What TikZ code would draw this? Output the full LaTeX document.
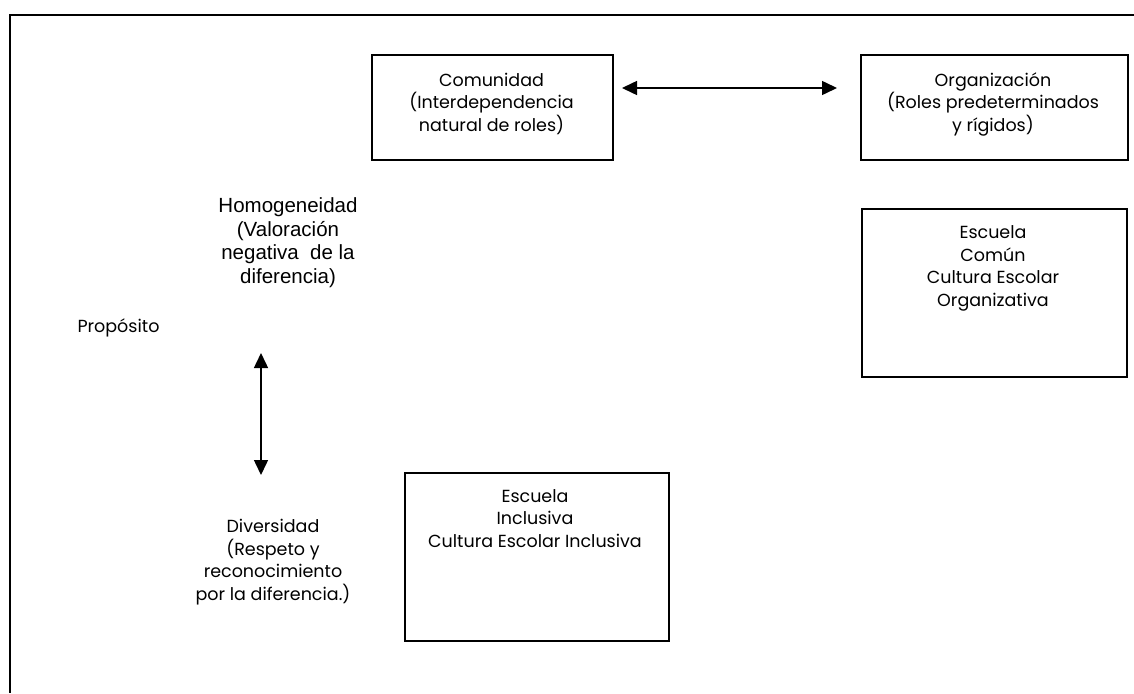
\documentclass[tikz,border=0pt]{standalone}
\usepackage{fontspec}
\setmainfont{Poppins}
\newfontfamily\arialfont{Liberation Sans}
\usetikzlibrary{arrows.meta}
\begin{document}
\begin{tikzpicture}[x=1pt,y=-1pt,
  box/.style={draw,line width=1.8pt,inner sep=0pt,anchor=north west},
  boxtext/.style={align=center,anchor=base,inner sep=0pt,font=\fontsize{17.5}{22.5}\selectfont},
  plaintext/.style={align=center,anchor=base,inner sep=0pt,font=\arialfont\fontsize{20.5}{23.5}\selectfont},
  dbl/.style={{Triangle[length=15pt,width=14pt]}-{Triangle[length=15pt,width=14pt]},line width=1.5pt}]
\useasboundingbox (0,0) rectangle (1134,693);

% outer frame (top and left edges)
\coordinate (ftr) at (1134,15);
\coordinate (ftl) at (10,15);
\coordinate (fbl) at (10,693);
\draw[line width=2pt] (ftr) -- (ftl) -- (fbl);

% boxes
\node[box,minimum width=241pt,minimum height=105pt] (comunidad) at (371,54) {};
\node[box,minimum width=267pt,minimum height=105pt] (organizacion) at (860,54) {};
\node[box,minimum width=265pt,minimum height=168pt] (comun) at (861,208) {};
\node[box,minimum width=264pt,minimum height=168pt] (inclusiva) at (404,472) {};

% box texts (positioned by the baseline of their last line)
\node[boxtext] (tcomunidad) at (491.5,131) {Comunidad\\(Interdependencia\\natural de roles)};
\node[boxtext] (torganizacion) at (993,131) {Organización\\(Roles predeterminados\\y rígidos)};
\node[boxtext] (tcomun) at (993,306) {Escuela\\Común\\Cultura Escolar\\Organizativa};
\node[boxtext] (tinclusiva) at (535,547) {Escuela\\Inclusiva\\Cultura Escolar Inclusiva};

% free texts
\node[plaintext] (homog) at (288,283) {Homogeneidad\\(Valoración\\negativa\ \ de la\\diferencia)};
\node[boxtext] (proposito) at (118.5,332) {Propósito};
\node[boxtext] (divers) at (273,600) {Diversidad\\(Respeto y\\reconocimiento\\por la diferencia.)};

% arrows
\coordinate (ha) at (622,88);
\coordinate (hb) at (837,88);
\draw[dbl] (ha) -- (hb);
\coordinate (va) at (261,353);
\coordinate (vb) at (261,475);
\draw[dbl] (va) -- (vb);
\end{tikzpicture}
\end{document}
